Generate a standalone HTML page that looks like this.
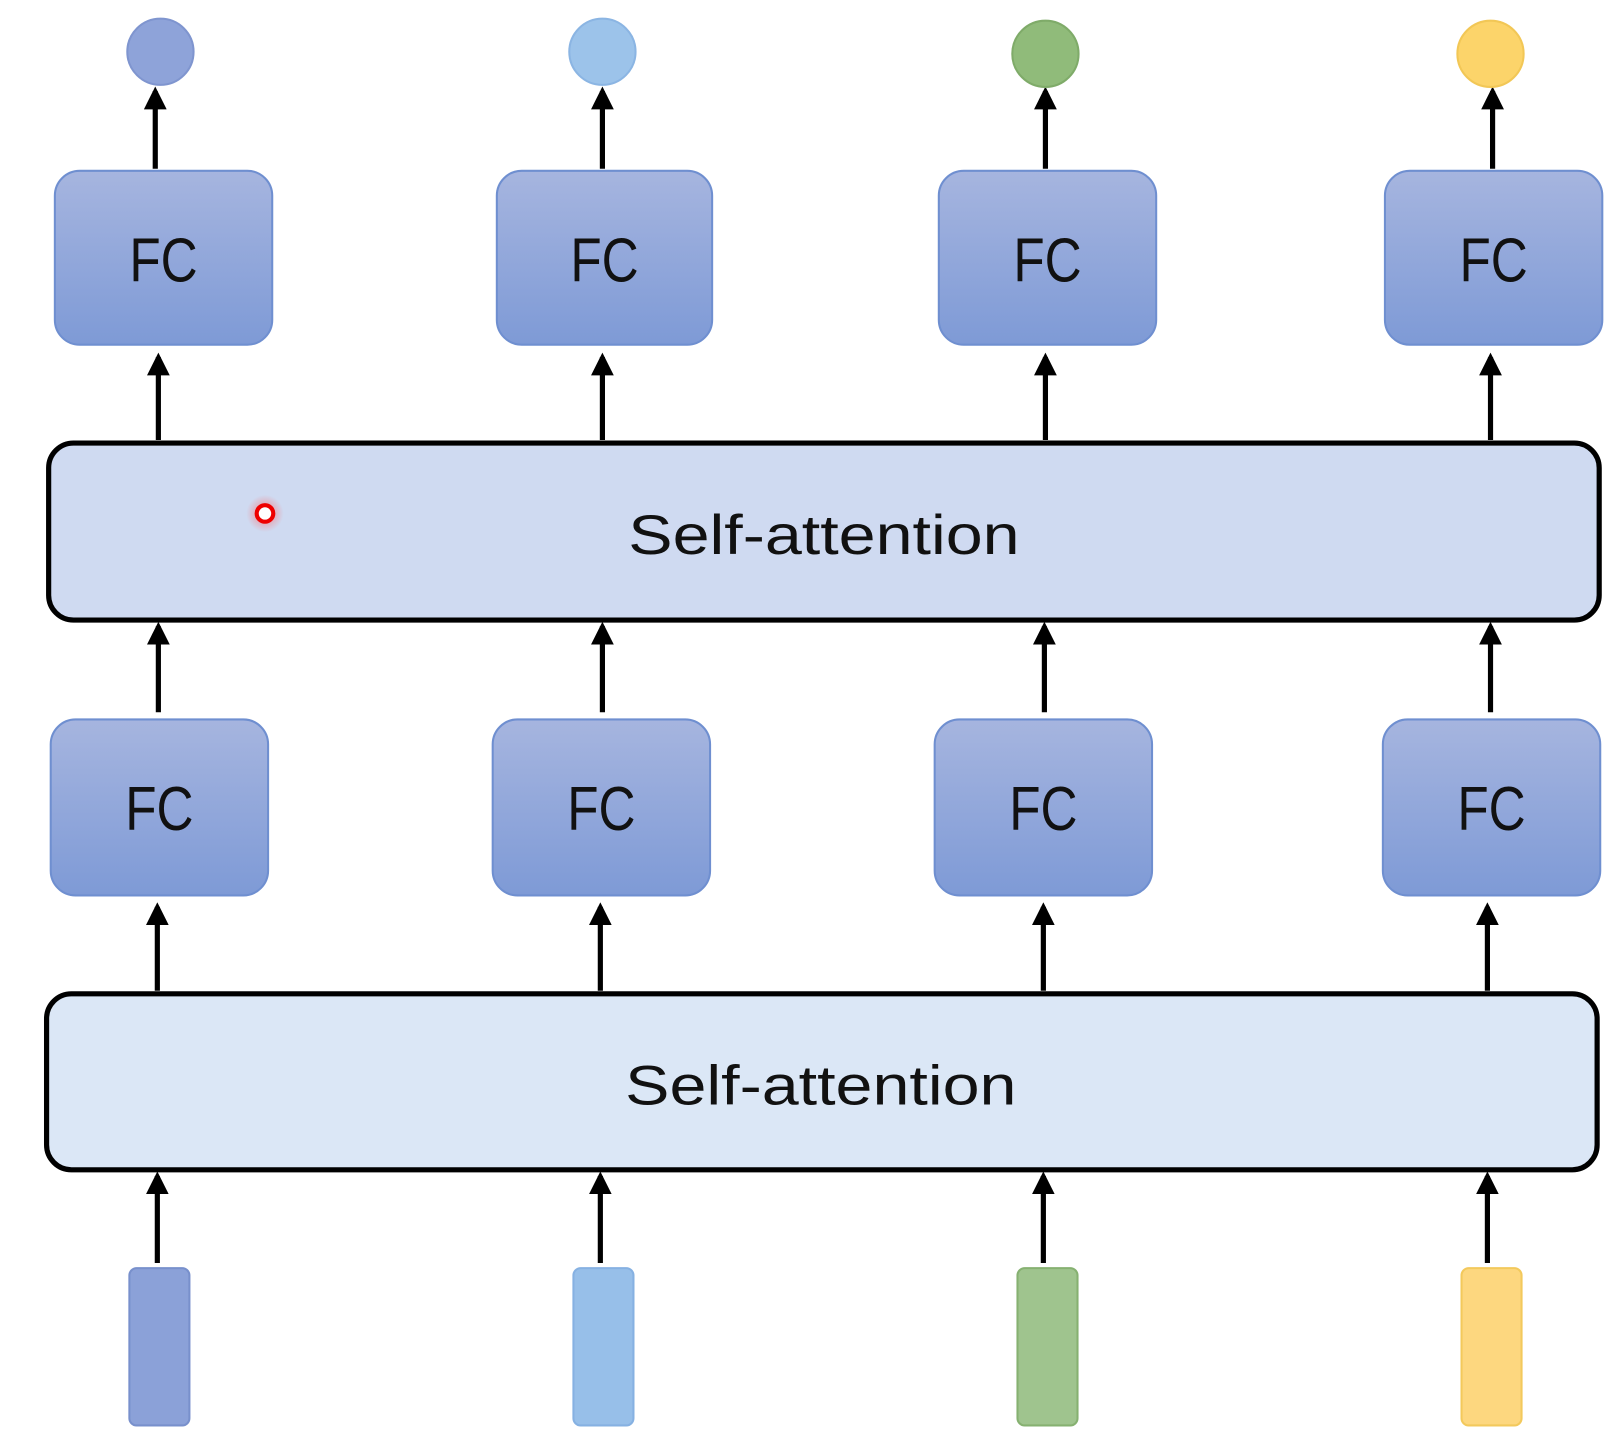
<!DOCTYPE html>
<html><head><meta charset="utf-8"><style>html,body{margin:0;padding:0;background:#fff}svg{display:block}</style></head>
<body>
<svg width="1623" height="1441" viewBox="0 0 1568 1392" preserveAspectRatio="none" xmlns="http://www.w3.org/2000/svg">
<defs>
<linearGradient id="fc" x1="0" y1="0" x2="0" y2="1"><stop offset="0" stop-color="#a6b5df"/><stop offset="1" stop-color="#7e9ad6"/></linearGradient>
<radialGradient id="glow"><stop offset="0" stop-color="#ff6060" stop-opacity="0.7"/><stop offset="1" stop-color="#ff6060" stop-opacity="0"/></radialGradient>
<marker id="ah" viewBox="0 0 10 10" refX="8" refY="5" markerWidth="4.4" markerHeight="4.4" orient="auto"><path d="M0,0 L10,5 L0,10 z" fill="#000"/></marker>
</defs>
<g fill="none" stroke="#000" stroke-width="5" marker-end="url(#ah)">
<line x1="150" y1="163" x2="150" y2="88"/><line x1="582" y1="163" x2="582" y2="88"/><line x1="1010" y1="163" x2="1010" y2="88"/><line x1="1442" y1="163" x2="1442" y2="88"/>
<line x1="153" y1="425" x2="153" y2="345"/><line x1="582" y1="425" x2="582" y2="345"/><line x1="1010" y1="425" x2="1010" y2="345"/><line x1="1440" y1="425" x2="1440" y2="345"/>
<line x1="153" y1="688" x2="153" y2="605"/><line x1="582" y1="688" x2="582" y2="605"/><line x1="1009" y1="688" x2="1009" y2="605"/><line x1="1440" y1="688" x2="1440" y2="605"/>
<line x1="152" y1="957" x2="152" y2="876"/><line x1="580" y1="957" x2="580" y2="876"/><line x1="1008" y1="957" x2="1008" y2="876"/><line x1="1437" y1="957" x2="1437" y2="876"/>
<line x1="152" y1="1220" x2="152" y2="1136"/><line x1="580" y1="1220" x2="580" y2="1136"/><line x1="1008" y1="1220" x2="1008" y2="1136"/><line x1="1437" y1="1220" x2="1437" y2="1136"/>
</g>
<circle cx="155" cy="50" r="32" fill="#8ea3d9" stroke="#7f95cf" stroke-width="2"/>
<circle cx="582" cy="50" r="32" fill="#9cc3ea" stroke="#8bb5e3" stroke-width="2"/>
<circle cx="1010" cy="52" r="32" fill="#90bb7a" stroke="#7fab69" stroke-width="2"/>
<circle cx="1440" cy="52" r="32" fill="#fcd46a" stroke="#f2c756" stroke-width="2"/>
<g fill="url(#fc)" stroke="#6f8fd0" stroke-width="2">
<rect x="53" y="165" width="210" height="168" rx="24"/><rect x="480" y="165" width="208" height="168" rx="24"/><rect x="907" y="165" width="210" height="168" rx="24"/><rect x="1338" y="165" width="210" height="168" rx="24"/>
<rect x="49" y="695" width="210" height="170" rx="24"/><rect x="476" y="695" width="210" height="170" rx="24"/><rect x="903" y="695" width="210" height="170" rx="24"/><rect x="1336" y="695" width="210" height="170" rx="24"/>
</g>
<g font-family="Liberation Sans, sans-serif" font-size="60" fill="#111" lengthAdjust="spacingAndGlyphs">
<text x="125" y="272" textLength="66" lengthAdjust="spacingAndGlyphs">FC</text><text x="551" y="272" textLength="66" lengthAdjust="spacingAndGlyphs">FC</text><text x="979" y="272" textLength="66" lengthAdjust="spacingAndGlyphs">FC</text><text x="1410" y="272" textLength="66" lengthAdjust="spacingAndGlyphs">FC</text>
<text x="121" y="802" textLength="66" lengthAdjust="spacingAndGlyphs">FC</text><text x="548" y="802" textLength="66" lengthAdjust="spacingAndGlyphs">FC</text><text x="975" y="802" textLength="66" lengthAdjust="spacingAndGlyphs">FC</text><text x="1408" y="802" textLength="66" lengthAdjust="spacingAndGlyphs">FC</text>
</g>
<rect x="47" y="428" width="1498" height="171" rx="24" fill="#cfdaf1" stroke="#000" stroke-width="5"/>
<rect x="45" y="960" width="1498" height="170" rx="24" fill="#dbe7f6" stroke="#000" stroke-width="5"/>
<circle cx="256" cy="496" r="18" fill="url(#glow)"/>
<circle cx="256" cy="496" r="8" fill="#fff" stroke="#e00" stroke-width="4"/>
<g font-family="Liberation Sans, sans-serif" font-size="54" fill="#111">
<text x="607" y="535" textLength="378" lengthAdjust="spacingAndGlyphs">Self-attention</text>
<text x="604" y="1067" textLength="378" lengthAdjust="spacingAndGlyphs">Self-attention</text>
</g>
<rect x="125" y="1225" width="58" height="152" rx="7" fill="#8ba1d8" stroke="#7890cc" stroke-width="2"/>
<rect x="554" y="1225" width="58" height="152" rx="7" fill="#97bfe9" stroke="#86b1e2" stroke-width="2"/>
<rect x="983" y="1225" width="58" height="152" rx="7" fill="#9fc48e" stroke="#86b171" stroke-width="2"/>
<rect x="1412" y="1225" width="58" height="152" rx="7" fill="#fdd77f" stroke="#f3c95c" stroke-width="2"/>
</svg>
</body></html>
